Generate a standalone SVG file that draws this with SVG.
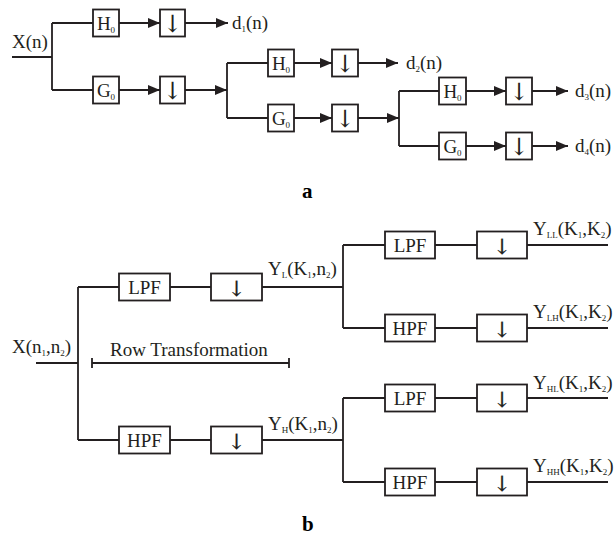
<svg xmlns="http://www.w3.org/2000/svg" width="614" height="537" viewBox="0 0 614 537">
<style>
.ln{stroke:#231f20;stroke-width:1.8;fill:none}
.bx{stroke:#231f20;stroke-width:1.8;fill:#fff}
.t{font-family:"Liberation Serif","Times New Roman",serif;font-size:19px;fill:#231f20}
.c{text-anchor:middle}
.s{font-size:9px}
.dn{font-family:"DejaVu Serif","DejaVu Sans",serif;fill:#231f20;text-anchor:middle}
.da{font-size:24px;stroke:none}
.db{font-size:21px;stroke:#231f20;stroke-width:0.25}
.lab{font-family:"Liberation Serif","Times New Roman",serif;font-weight:bold;font-size:21px;fill:#000}
</style>
<defs>
<marker id="ah" markerWidth="12" markerHeight="10" refX="12" refY="5" orient="auto" markerUnits="userSpaceOnUse">
<path d="M0,0 L12,5 L0,10 z" fill="#231f20"/>
</marker>
</defs>
<g id="connectors">
<path class="ln" d="M12,57 H52 M52,23 V90 M52,23 H93 M52,90 H93"/>
<path class="ln" d="M119,23 H160" marker-end="url(#ah)"/>
<path class="ln" d="M185,23 H228" marker-end="url(#ah)"/>
<path class="ln" d="M119,90 H160" marker-end="url(#ah)"/>
<path class="ln" d="M185,90 H227" marker-end="url(#ah)"/>
<path class="ln" d="M227,63 V118 M227,63 H268 M227,118 H268"/>
<path class="ln" d="M294,63 H332" marker-end="url(#ah)"/>
<path class="ln" d="M358,63 H398" marker-end="url(#ah)"/>
<path class="ln" d="M294,118 H332" marker-end="url(#ah)"/>
<path class="ln" d="M358,118 H399" marker-end="url(#ah)"/>
<path class="ln" d="M399,91 V146 M399,91 H439 M399,146 H439"/>
<path class="ln" d="M466,91 H506" marker-end="url(#ah)"/>
<path class="ln" d="M532,91 H568" marker-end="url(#ah)"/>
<path class="ln" d="M466,146 H506" marker-end="url(#ah)"/>
<path class="ln" d="M532,146 H568" marker-end="url(#ah)"/>
<path class="ln" d="M36,363 H78 M78,287 V440 M78,287 H119 M78,440 H119"/>
<path class="ln" d="M170,287 H211 M262,287 H343 M170,440 H211 M262,440 H343"/>
<path class="ln" d="M343,245 V328 M343,245 H385 M343,328 H385"/>
<path class="ln" d="M343,398 V482 M343,398 H385 M343,482 H385"/>
<path class="ln" d="M435,245 H477 M527,245 H608 M435,328 H477 M527,328 H608"/>
<path class="ln" d="M435,398 H477 M527,398 H608 M435,482 H477 M527,482 H608"/>
<path class="ln" d="M92,363 H289 M92,358 V368 M289,358 V368"/>
</g>
<g id="a-h0-1"><rect class="bx" x="93" y="9.5" width="26" height="27"/><text class="t c" x="106" y="30">H<tspan class="s" dy="3">0</tspan></text></g>
<g id="a-dn-1"><rect class="bx" x="160" y="9.5" width="25" height="27"/><text class="dn da" x="172.5" y="32">↓</text></g>
<g id="a-g0-1"><rect class="bx" x="93" y="76.5" width="26" height="27"/><text class="t c" x="106" y="97">G<tspan class="s" dy="3">0</tspan></text></g>
<g id="a-dn-2"><rect class="bx" x="160" y="76.5" width="25" height="27"/><text class="dn da" x="172.5" y="99">↓</text></g>
<g id="a-h0-2"><rect class="bx" x="268" y="49.5" width="26" height="27"/><text class="t c" x="281" y="70">H<tspan class="s" dy="3">0</tspan></text></g>
<g id="a-dn-3"><rect class="bx" x="332" y="49.5" width="26" height="27"/><text class="dn da" x="345" y="72">↓</text></g>
<g id="a-g0-2"><rect class="bx" x="268" y="104.5" width="26" height="27"/><text class="t c" x="281" y="125">G<tspan class="s" dy="3">0</tspan></text></g>
<g id="a-dn-4"><rect class="bx" x="332" y="104.5" width="26" height="27"/><text class="dn da" x="345" y="127">↓</text></g>
<g id="a-h0-3"><rect class="bx" x="439" y="77.5" width="27" height="27"/><text class="t c" x="452.5" y="98">H<tspan class="s" dy="3">0</tspan></text></g>
<g id="a-dn-5"><rect class="bx" x="506" y="77.5" width="26" height="27"/><text class="dn da" x="519" y="100">↓</text></g>
<g id="a-g0-3"><rect class="bx" x="439" y="132.5" width="27" height="27"/><text class="t c" x="452.5" y="153">G<tspan class="s" dy="3">0</tspan></text></g>
<g id="a-dn-6"><rect class="bx" x="506" y="132.5" width="26" height="27"/><text class="dn da" x="519" y="155">↓</text></g>
<g id="a-labels">
<text class="t" x="12" y="48">X(n)</text>
<text class="t" x="232" y="29">d<tspan class="s" dy="3">1</tspan><tspan dy="-3">(n)</tspan></text>
<text class="t" x="406" y="69">d<tspan class="s" dy="3">2</tspan><tspan dy="-3">(n)</tspan></text>
<text class="t" x="575" y="97">d<tspan class="s" dy="3">3</tspan><tspan dy="-3">(n)</tspan></text>
<text class="t" x="575" y="152">d<tspan class="s" dy="3">4</tspan><tspan dy="-3">(n)</tspan></text>
<text class="lab" x="302" y="198">a</text>
</g>
<g id="b-lpf-1"><rect class="bx" x="119" y="273.5" width="51" height="27"/><text class="t c" x="144.5" y="294">LPF</text></g>
<g id="b-dn-1"><rect class="bx" x="211" y="273.5" width="51" height="27"/><text class="dn db" x="236.5" y="295.5">↓</text></g>
<g id="b-hpf-1"><rect class="bx" x="119" y="426.5" width="51" height="27"/><text class="t c" x="144.5" y="447">HPF</text></g>
<g id="b-dn-2"><rect class="bx" x="211" y="426.5" width="51" height="27"/><text class="dn db" x="236.5" y="448.5">↓</text></g>
<g id="b-lpf-2"><rect class="bx" x="385" y="231.5" width="50" height="27"/><text class="t c" x="410" y="252">LPF</text></g>
<g id="b-dn-3"><rect class="bx" x="477" y="231.5" width="50" height="27"/><text class="dn db" x="502" y="253.5">↓</text></g>
<g id="b-hpf-2"><rect class="bx" x="385" y="314.5" width="50" height="27"/><text class="t c" x="410" y="335">HPF</text></g>
<g id="b-dn-4"><rect class="bx" x="477" y="314.5" width="50" height="27"/><text class="dn db" x="502" y="336.5">↓</text></g>
<g id="b-lpf-3"><rect class="bx" x="385" y="384.5" width="50" height="27"/><text class="t c" x="410" y="405">LPF</text></g>
<g id="b-dn-5"><rect class="bx" x="477" y="384.5" width="50" height="27"/><text class="dn db" x="502" y="406.5">↓</text></g>
<g id="b-hpf-3"><rect class="bx" x="385" y="468.5" width="50" height="27"/><text class="t c" x="410" y="489">HPF</text></g>
<g id="b-dn-6"><rect class="bx" x="477" y="468.5" width="50" height="27"/><text class="dn db" x="502" y="490.5">↓</text></g>
<g id="b-labels">
<text class="t" x="12" y="353">X(n<tspan class="s" dy="3">1</tspan><tspan dy="-3">,n</tspan><tspan class="s" dy="3">2</tspan><tspan dy="-3">)</tspan></text>
<text class="t" x="110" y="356">Row Transformation</text>
<text class="t" x="268" y="275">Y<tspan class="s" dy="3">L</tspan><tspan dy="-3">(K</tspan><tspan class="s" dy="3">1</tspan><tspan dy="-3">,n</tspan><tspan class="s" dy="3">2</tspan><tspan dy="-3">)</tspan></text>
<text class="t" x="268" y="430">Y<tspan class="s" dy="3">H</tspan><tspan dy="-3">(K</tspan><tspan class="s" dy="3">1</tspan><tspan dy="-3">,n</tspan><tspan class="s" dy="3">2</tspan><tspan dy="-3">)</tspan></text>
<text class="t" x="533" y="235">Y<tspan class="s" dy="3">LL</tspan><tspan dy="-3">(K</tspan><tspan class="s" dy="3">1</tspan><tspan dy="-3">,K</tspan><tspan class="s" dy="3">2</tspan><tspan dy="-3">)</tspan></text>
<text class="t" x="533" y="318">Y<tspan class="s" dy="3">LH</tspan><tspan dy="-3">(K</tspan><tspan class="s" dy="3">1</tspan><tspan dy="-3">,K</tspan><tspan class="s" dy="3">2</tspan><tspan dy="-3">)</tspan></text>
<text class="t" x="533" y="389">Y<tspan class="s" dy="3">HL</tspan><tspan dy="-3">(K</tspan><tspan class="s" dy="3">1</tspan><tspan dy="-3">,K</tspan><tspan class="s" dy="3">2</tspan><tspan dy="-3">)</tspan></text>
<text class="t" x="533" y="472">Y<tspan class="s" dy="3">HH</tspan><tspan dy="-3">(K</tspan><tspan class="s" dy="3">1</tspan><tspan dy="-3">,K</tspan><tspan class="s" dy="3">2</tspan><tspan dy="-3">)</tspan></text>
<text class="lab" x="302" y="531">b</text>
</g>
</svg>
